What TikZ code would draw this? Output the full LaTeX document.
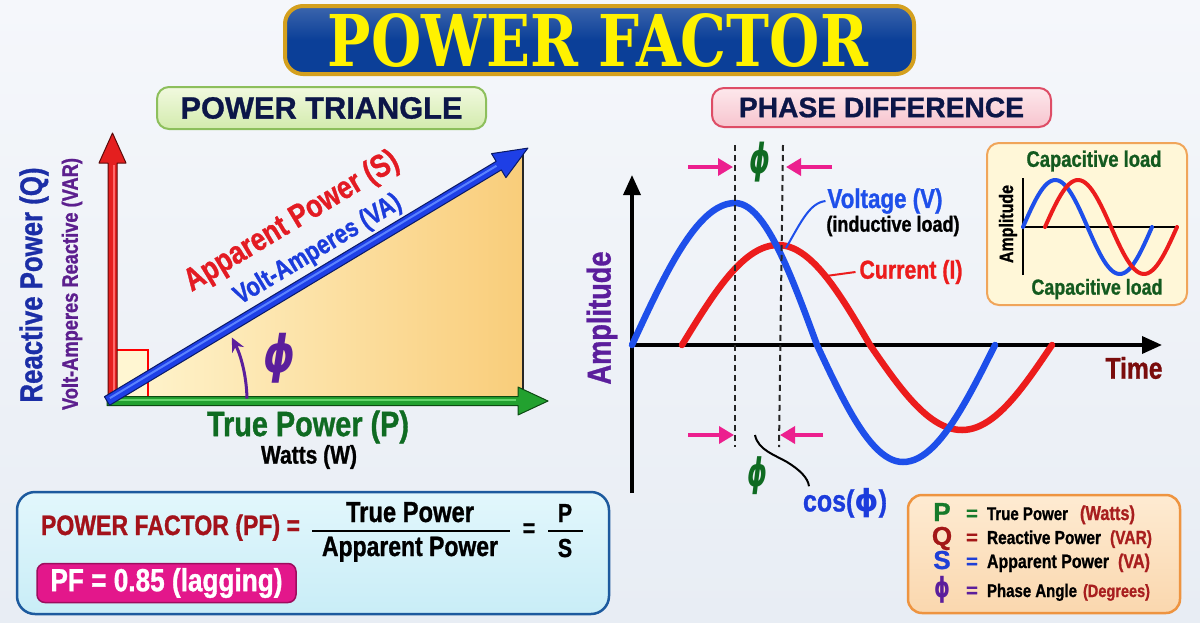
\documentclass[tikz,border=0pt]{standalone}
\usepackage{fontspec}
\usepackage{graphicx}
\usetikzlibrary{arrows.meta,calc}
\setmainfont{Liberation Sans}
\newfontfamily\narrowf{Liberation Sans}[FakeStretch=0.82, BoldFeatures={FakeBold=1}]
\newfontfamily\widef{Liberation Sans}[BoldFeatures={FakeBold=1}]
\newfontfamily\phif{DejaVu Sans}
\newfontfamily\titlef{DejaVu Serif}
\newcommand\nb{\narrowf\bfseries}
\newcommand\fitw[2]{\resizebox{#1pt}{!}{#2}}
\newcommand\fitwh[3]{\resizebox*{#1pt}{#2pt}{#3}}
\newcommand\fsz[1]{\fontsize{#1}{#1}\selectfont}

\definecolor{bgtop}{HTML}{F5F7FB}
\definecolor{bgbot}{HTML}{E8EDF4}
\definecolor{tblue}{HTML}{0B3F98}
\definecolor{tgold}{HTML}{D4A01E}
\definecolor{tyellow}{HTML}{FFF200}
\definecolor{navy}{HTML}{0C1648}
\definecolor{hgfillA}{HTML}{F1F9DF}
\definecolor{hgfillB}{HTML}{D3EBAD}
\definecolor{hgdraw}{HTML}{8DBF5C}
\definecolor{hpfillA}{HTML}{FDE8EC}
\definecolor{hpfillB}{HTML}{F7C4CE}
\definecolor{hpdraw}{HTML}{DE4D66}
\definecolor{triL}{HTML}{FFF6D2}
\definecolor{triR}{HTML}{F9CD7A}
\definecolor{arred}{HTML}{E41F1F}
\definecolor{arredlt}{HTML}{FF6A6A}
\definecolor{arredge}{HTML}{5C0A0A}
\definecolor{argreen}{HTML}{22A12F}
\definecolor{argreenlt}{HTML}{63D46A}
\definecolor{argedge}{HTML}{0C4A12}
\definecolor{arblue}{HTML}{1E3FE6}
\definecolor{arbluelt}{HTML}{5A82FF}
\definecolor{arbedge}{HTML}{0A1A66}
\definecolor{qblue}{HTML}{1B2EA6}
\definecolor{varpurple}{HTML}{5C1F8E}
\definecolor{sred}{HTML}{E31B23}
\definecolor{vablue}{HTML}{1C3CDC}
\definecolor{pgreen}{HTML}{0F6B22}
\definecolor{phipurple}{HTML}{5B1E9C}
\definecolor{pfred}{HTML}{A3121A}
\definecolor{fbfillA}{HTML}{E2F7FC}
\definecolor{fbfillB}{HTML}{C9EDF7}
\definecolor{fbdraw}{HTML}{1D5A9E}
\definecolor{pillfill}{HTML}{E3178B}
\definecolor{pilldraw}{HTML}{9E0C5E}
\definecolor{wblue}{HTML}{1E4FEA}
\definecolor{wred}{HTML}{EC1C1C}
\definecolor{pinkarr}{HTML}{EC1F8E}
\definecolor{timered}{HTML}{7A0C0C}
\definecolor{capgreen}{HTML}{135A1F}
\definecolor{capfill}{HTML}{FFF7D8}
\definecolor{capdraw}{HTML}{F0A55A}
\definecolor{legfillA}{HTML}{FEEBD2}
\definecolor{legfillB}{HTML}{FAD7AE}
\definecolor{legdraw}{HTML}{EE9440}
\definecolor{unitred}{HTML}{A81E1E}
\definecolor{lgreen}{HTML}{167A2A}
\definecolor{lred}{HTML}{A31717}
\definecolor{lblue}{HTML}{1F3FD6}

\newcommand\vecshape[5]{\filldraw[line width=1pt, line join=round, #5] (0,-#2) -- ({#1-#3},-#2) -- ({#1-#3},-#4) -- (#1,0) -- ({#1-#3},#4) -- ({#1-#3},#2) -- (0,#2) -- cycle;}

\tikzset{
  every node/.style={inner sep=0pt, outer sep=0pt},
  hdrbox/.style={rounded corners=12pt, line width=2pt},
  wave/.style={line width=6.5pt, line join=round, line cap=round},
  iwave/.style={line width=4pt, line join=round, line cap=round},
  axisline/.style={line width=3.5pt, black, -{Triangle[length=20pt,width=17pt]}},
  iaxis/.style={line width=2.5pt, black},
  dashln/.style={line width=2pt, black!85, dash pattern=on 6pt off 4pt},
  pinkarrow/.style={line width=3.5pt, pinkarr, -{Triangle[length=15pt,width=17pt]}},
  leader/.style={line width=2pt},
}

\begin{document}
\begin{tikzpicture}[x=1pt,y=-1pt]
\useasboundingbox (0,0) rectangle (1200,622);
\fill[top color=bgtop, bottom color=bgbot] (0,0) rectangle (1200,622);

% ---------- title ----------
\node[draw=tgold, line width=4pt, top color=tblue!80!white, bottom color=tblue, middle color=tblue,
      rounded corners=18pt, minimum width=629pt, minimum height=68pt] (banner) at (599.5,40) {};
\node[text=tyellow] (titletext) at (598,41) {\fitwh{540}{54}{\titlef\bfseries POWER FACTOR}};

% ---------- headers ----------
\node[hdrbox, draw=hgdraw, top color=hgfillA, bottom color=hgfillB,
      minimum width=329pt, minimum height=42pt, text=navy] (trihdr) at (321.5,108)
      {\fitw{282}{\widef\bfseries POWER TRIANGLE}};
\node[hdrbox, draw=hpdraw, top color=hpfillA, bottom color=hpfillB,
      minimum width=339pt, minimum height=39pt, text=navy] (phhdr) at (881.5,107.5)
      {\fitw{285}{\widef\bfseries PHASE DIFFERENCE}};

% ---------- power triangle ----------
\coordinate (O) at (107,401);
\coordinate (Qbase) at (112.5,403);
\coordinate (Rtop) at (523,150);
\coordinate (Rbot) at (523,401);
\fill[left color=triL, right color=triR] (O) -- (Rbot) -- (Rtop) -- cycle;
\draw[line width=2pt, black!85] (Rbot) -- (Rtop);
\draw[red, line width=1.3pt, fill=triL] (113,350) rectangle (148,398);

\begin{scope}[shift={(Qbase)}, rotate=90, x=1pt, y=1pt]
  \vecshape{270}{4.5}{30}{13.5}{fill=arred, draw=arredge}
  \draw[arredlt, line width=2pt] (2,-1) -- (238,-1);
\end{scope}
\begin{scope}[shift={(O)}, x=1pt, y=1pt]
  \vecshape{441}{4.5}{30}{14}{fill=argreen, draw=argedge}
  \draw[argreenlt, line width=2pt] (4,1) -- (409,1);
\end{scope}
\begin{scope}[shift={(O)}, rotate=31.0, x=1pt, y=1pt]
  \vecshape{491}{5}{34}{14}{fill=arblue, draw=arbedge}
  \draw[arbluelt, line width=2pt] (4,1) -- (455,1);
\end{scope}
\begin{scope}[shift={(O)}, x=1pt, y=1pt]
  \draw[phipurple, line width=3pt, -{Stealth[length=14pt,width=13pt]}] (1:140) arc[start angle=1, end angle=27, radius=140];
\end{scope}

\node[text=phipurple] (phitri) at (280,358) {\fitwh{32}{50}{\phif\bfseries\itshape ϕ}};
\node[text=sred, rotate=31] (appS) at (292,222) {\fitw{244}{\nb Apparent Power (S)}};
\node[text=vablue, rotate=31] (voltVA) at (318,250) {\fitw{190}{\nb Volt-Amperes (VA)}};
\node[text=pgreen] (trueP) at (308,427) {\fitw{202}{\nb True Power (P)}};
\node[text=black] (watts) at (309,457) {\fitw{96}{\nb Watts (W)}};
\node[text=qblue, rotate=90] (reactQ) at (34,285) {\fitw{235}{\nb Reactive Power (Q)}};
\node[text=varpurple, rotate=90] (varlab) at (72,284) {\fitw{252}{\nb Volt-Amperes Reactive (VAR)}};

% ---------- formula box ----------
\node[draw=fbdraw, line width=2.5pt, top color=fbfillA, bottom color=fbfillB, rounded corners=18pt,
      minimum width=592pt, minimum height=122pt] (fbox) at (313,553) {};
\node[text=pfred, anchor=base] (pfeq) at (170.5,535) {\fitw{259}{\nb POWER FACTOR (PF) =}};
\node[anchor=base] (num) at (410,522) {\fitw{128}{\nb True Power}};
\node[anchor=base] (den) at (410,556) {\fitw{176}{\nb Apparent Power}};
\coordinate (fbarL) at (312,531);
\coordinate (fbarR) at (510,531);
\draw[line width=2.5pt] (fbarL) -- (fbarR);
\node (eqtwo) at (529,530) {\nb\fsz{26}=};
\node[anchor=base] (pnum) at (565,522) {\nb\fsz{26}P};
\node[anchor=base] (sden) at (565,557) {\nb\fsz{26}S};
\coordinate (pbarL) at (548,531);
\coordinate (pbarR) at (583,531);
\draw[line width=2.5pt] (pbarL) -- (pbarR);
\node[draw=pilldraw, line width=1.5pt, fill=pillfill, rounded corners=8pt,
      minimum width=259pt, minimum height=39pt, text=white] (pill) at (166.5,583)
      {\fitw{232}{\nb PF = 0.85 (lagging)}};

% ---------- phase plot ----------
\coordinate (yb) at (632,493);
\coordinate (yt) at (632,175);
\coordinate (xo) at (630,345);
\coordinate (xe) at (1162,345);
\draw[axisline] (yb) -- (yt);
\draw[axisline] (xo) -- (xe);

\draw[wave, wred] plot[domain=0:90, samples=25] ({682+\x/90*96}, {345-100*sin(\x)})
  -- plot[domain=90:180, samples=25] ({778+(\x-90)/90*92}, {345-100*sin(\x)})
  -- plot[domain=180:270, samples=25] ({870+(\x-180)/90*92}, {345-85*sin(\x)})
  -- plot[domain=270:360, samples=25] ({962+(\x-270)/90*90}, {345-85*sin(\x)});
\draw[wave, wblue] plot[domain=0:90, samples=25] ({632+\x/90*103}, {345-142*sin(\x)})
  -- plot[domain=90:180, samples=25] ({735+(\x-90)/90*82}, {345-142*sin(\x)})
  -- plot[domain=180:270, samples=25] ({817+(\x-180)/90*86}, {345-117*sin(\x)})
  -- plot[domain=270:360, samples=25] ({903+(\x-270)/90*92}, {345-117*sin(\x)});

\coordinate (d1t) at (735,145);
\coordinate (d1b) at (735,447);
\coordinate (d2t) at (783,145);
\coordinate (d2b) at (779,447);
\draw[dashln] (d1t) -- (d1b);
\draw[dashln] (d2t) -- (d2b);

\coordinate (pa1s) at (688,167); \coordinate (pa1e) at (733,167);
\coordinate (pa2s) at (832,167); \coordinate (pa2e) at (786,167);
\coordinate (pa3s) at (688,435); \coordinate (pa3e) at (734,435);
\coordinate (pa4s) at (823,435); \coordinate (pa4e) at (780,435);
\draw[pinkarrow] (pa1s) -- (pa1e);
\draw[pinkarrow] (pa2s) -- (pa2e);
\draw[pinkarrow] (pa3s) -- (pa3e);
\draw[pinkarrow] (pa4s) -- (pa4e);

\node[text=pgreen] (phitop) at (760,162) {\fitwh{21}{40}{\phif\bfseries\itshape ϕ}};
\node[text=pgreen] (phibot) at (757,476) {\fitwh{20}{38}{\phif\bfseries\itshape ϕ}};
\node[text=vablue] (coslab) at (845,503) {\fitw{84}{\nb cos(\phif\bfseries ϕ\nb)}};
\coordinate (sq1) at (755,435);
\draw[line width=2pt, black] (sq1) .. controls (758,450) and (775,455) .. (787,462)
  .. controls (800,470) and (808,478) .. ($(coslab.north west)+(6pt,2pt)$);

\node[text=wblue] (vlab) at (885,201) {\fitw{115}{\nb Voltage (V)}};
\node[text=black] (indl) at (893,226) {\fitw{133}{\nb (inductive load)}};
\node[text=wred] (clab) at (911,272) {\fitw{103}{\nb Current (I)}};
\coordinate (vpt) at (786,248);
\coordinate (cpt) at (826,276);
\draw[leader, wblue] (vpt) .. controls (802,220) and (810,203) .. ($(vlab.west)+(-2pt,0)$);
\draw[leader, wred] (cpt) -- ($(clab.west)+(-4pt,0)$);

\node[text=timered] (timelab) at (1134,368) {\fitw{57}{\nb Time}};
\node[text=phipurple, rotate=90] (amplab) at (602,318) {\fitw{133}{\nb Amplitude}};

% ---------- capacitive inset ----------
\node[draw=capdraw, line width=2pt, fill=capfill, rounded corners=12pt,
      minimum width=200pt, minimum height=162pt] (capbox) at (1087,224) {};
\node[text=capgreen] (captop) at (1094,161) {\fitw{135}{\nb Capacitive load}};
\node[text=capgreen] (capbot) at (1097,289) {\fitw{131}{\nb Capacitive load}};
\coordinate (iyb) at (1023,275);
\coordinate (iyt) at (1023,178);
\coordinate (ixo) at (1023,227);
\coordinate (ixe) at (1177,227);
\draw[iaxis] (iyb) -- (iyt);
\draw[iaxis] (ixo) -- (ixe);
\node[text=black, rotate=90] (iamp) at (1008,224) {\fitw{78}{\nb Amplitude}};
\draw[iwave, wblue] plot[domain=0:360, samples=60] ({1023+\x/360*129}, {227-47*sin(\x)});
\draw[iwave, wred] plot[domain=0:360, samples=60] ({1045+\x/360*132}, {227-47*sin(\x)});

% ---------- legend ----------
\node[draw=legdraw, line width=2.5pt, top color=legfillA, bottom color=legfillB, rounded corners=14pt,
      minimum width=272pt, minimum height=118pt] (legbox) at (1044,554) {};
\node[anchor=base, text=lgreen] (lP) at (942,521) {\widef\bfseries\fsz{26}P};
\node[anchor=base, text=lred] (lQ) at (942,545) {\widef\bfseries\fsz{26}Q};
\node[anchor=base, text=lblue] (lS) at (942,569) {\widef\bfseries\fsz{26}S};
\node[text=phipurple] (lphi) at (942,590) {\fitwh{16}{27}{\phif\bfseries ϕ}};
\node[anchor=base, text=lgreen] (eP) at (972,520) {\widef\bfseries\fsz{20}=};
\node[anchor=base, text=lred] (eQ) at (972,544) {\widef\bfseries\fsz{20}=};
\node[anchor=base, text=lblue] (eS) at (972,568) {\widef\bfseries\fsz{20}=};
\node[anchor=base, text=phipurple] (ePhi) at (972,597) {\widef\bfseries\fsz{20}=};
\node[anchor=base west] (tP) at (987,520) {\fitw{81}{\nb True Power}};
\node[anchor=base west] (tQ) at (987,544) {\fitw{114}{\nb Reactive Power}};
\node[anchor=base west] (tS) at (987,568) {\fitw{122}{\nb Apparent Power}};
\node[anchor=base west] (tPhi) at (987,597) {\fitw{90}{\nb Phase Angle}};
\node[anchor=base west, text=unitred] (uP) at (1080,520) {\fitw{55}{\nb (Watts)}};
\node[anchor=base west, text=unitred] (uQ) at (1110,544) {\fitw{42}{\nb (VAR)}};
\node[anchor=base west, text=unitred] (uS) at (1118,568) {\fitw{32}{\nb (VA)}};
\node[anchor=base west, text=unitred] (uPhi) at (1083,597) {\fitw{67}{\nb (Degrees)}};
\end{tikzpicture}
\end{document}
